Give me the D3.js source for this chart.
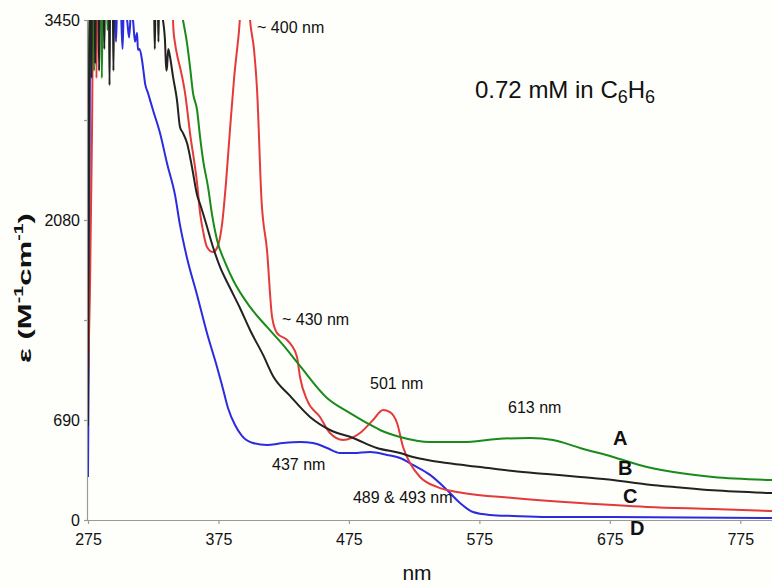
<!DOCTYPE html>
<html>
<head>
<meta charset="utf-8">
<script src="https://cdn.jsdelivr.net/npm/d3@7/dist/d3.min.js"></script>
<style>
  html, body { margin: 0; padding: 0; background: #fefefb; }
  svg { display: block; font-family: "Liberation Sans", Arial, Helvetica, sans-serif; }
</style>
</head>
<body>
<svg id="chart" width="772" height="587"></svg>
<script>
// ---------- data (wavelength nm, epsilon M^-1 cm^-1) ----------
const curveA = [ // green
  [275,1700],[275.6,2800],[276.3,3600],[279,3600],[279.6,3100],[280.3,3600],[285,3600],[285.6,3050],[286.3,3600],
  [289.5,3600],[290,3380],[290.6,3600],[345,3600],[347.8,3450],[350.9,3291],[353.2,3126],[355.5,2946],[358.6,2829],
  [360.9,2643],[363.2,2484],[367.0,2298],[370.1,2105],[373.9,1932],[380.0,1780],[386.2,1656],[399.2,1470],[412.2,1332],
  [424.5,1208],[437.5,1063],[458.2,842],[475.9,738],[488.9,669],[498.8,621],[514.2,573],[537.2,538],[562.5,538],
  [588.5,559],[613.8,566],[631.5,552],[652.2,497],[677.5,435],[703.5,366],[728.8,324],[754.1,297],[799.4,276]
];
const curveB = [ // black
  [275,650],[275.6,2500],[276.2,3600],[277.2,3600],[277.6,3050],[278.1,3600],[280,3600],[280.5,3150],[281,3600],
  [283,3600],[283.5,3100],[284,3600],[287,3600],[287.5,3250],[288,3600],[291,3600],[291.5,3000],[292,3600],
  [294,3600],[294.5,3100],[295,3600],[325.5,3600],[326.2,3250],[326.8,3600],[328.5,3600],[329,3300],[329.5,3600],
  [331.5,3500],[334.0,3312],[335.0,3100],[335.6,3126],[336.5,3250],[337.9,3195],[340.2,3057],[343.2,2898],
  [345.5,2712],[347.8,2670],[350.9,2601],[354.7,2436],[358.6,2243],[360.9,2180],[364.7,2070],[370.8,1884],
  [376.2,1746],[383.9,1601],[391.5,1463],[399.2,1311],[409.2,1139],[416.8,994],[429.9,856],[445.2,711],
  [460.5,621],[478.2,566],[496.5,497],[514.2,462],[524.1,435],[550.2,393],[575.5,366],[600.8,338],[626.9,317],
  [652.2,297],[677.5,276],[703.5,245],[728.8,224],[754.1,205],[799.4,186]
];
const curveC = [ // red
  [275,931],[276.5,1587],[278.1,2691],[279,3600],[281,3600],[281.5,3050],[282,3600],[285.2,3600],[285.7,3300],
  [286.2,3600],[339.4,3600],[340.5,3381],[341.7,3291],[343.5,3200],[345.5,3126],[349.4,2946],[353.2,2670],
  [358.6,2325],[360.9,2120],[363.5,1980],[366.2,1884],[370.8,1849],[373.9,1877],[377.7,2036],[380.8,2330],
  [383.9,2700],[387.0,3050],[390.5,3350],[393.1,3600],[398,3600],[399.2,3450],[402.3,3243],[404.6,2967],
  [408.0,2208],[412.2,1863],[416.1,1401],[419.9,1290],[427.6,1242],[431.4,1200],[435.2,1125],[437.5,987],
  [442.9,828],[452.8,711],[460.5,600],[470.5,552],[483.5,600],[493.5,690],[501.2,759],[506.5,745],[511.9,669],
  [516.5,504],[521.8,393],[529.5,297],[542.5,228],[562.5,186],[600.8,152],[652.2,117],[703.5,90],[754.1,76],[799.4,62]
];
const curveD = [ // blue
  [275,297],[276,1800],[276.8,3600],[295,3600],[296.5,3300],[297.5,3600],[300,3550],[301.5,3250],[302.5,3550],
  [305,3450],[306.5,3330],[308,3500],[309.5,3450],[311,3300],[312.6,3360],[313.3,3243],[314.5,3250],[316.4,3174],
  [317.5,3100],[318.7,3015],[321,2946],[324.8,2829],[330.2,2670],[335.6,2460],[341.7,2243],[345.5,2036],
  [350.9,1808],[358.6,1553],[366.2,1290],[373.9,1056],[377.7,932],[382.3,773],[387.7,655],[393.0,580],[401.5,531],
  [412.2,518],[424.5,531],[437.5,538],[447.5,531],[458.2,497],[468.2,462],[478.2,462],[491.2,469],[504.2,449],
  [514.2,428],[524.1,380],[537.2,311],[550.2,207],[560.2,117],[570.1,55],[583.2,35],[600.8,28],[626.9,21],
  [677.5,21],[799.4,14]
];

const xTickValues = [275, 375, 475, 575, 675, 775];
const yTickValues = [0, 690, 1380, 2070, 2760, 3450];
const yTickLabels = ["0", "690", "", "2080", "", "3450"];

const seriesNames = ["A", "B", "C", "D"];
const seriesColors = ["#1a8a1a", "#222222", "#e33b3b", "#2b2be0"];

const peakLabels = [
  { text: "~ 400 nm", nm: 404.6, eps: 3360 },
  { text: "~ 430 nm", nm: 423.7, eps: 1345 },
  { text: "501 nm", nm: 491.2, eps: 904 },
  { text: "613 nm", nm: 597.0, eps: 738 },
  { text: "437 nm", nm: 416.1, eps: 345 },
  { text: "489 & 493 nm", nm: 478.1, eps: 117 }
];
const letterLabels = [
  { text: "A", nm: 677.5, eps: 517 },
  { text: "B", nm: 681.3, eps: 310 },
  { text: "C", nm: 685.1, eps: 117 },
  { text: "D", nm: 690.5, eps: -103 }
];

// ---------- chart ----------
const svg = d3.select("#chart");
const pLeft = 88, pRight = 772.9, pTop = 20, pBottom = 520;

const x = d3.scaleLinear().domain([275, 800]).range([pLeft, pRight]);
const y = d3.scaleLinear().domain([0, 3450]).range([pBottom, pTop]);

svg.append("defs").append("clipPath").attr("id", "plotclip")
  .append("rect").attr("x", pLeft).attr("y", pTop).attr("width", pRight - pLeft).attr("height", pBottom - pTop + 2);

// axes
const yAxis = svg.append("g").attr("transform", `translate(${pLeft},0)`)
  .call(d3.axisLeft(y).tickValues(yTickValues).tickSize(4).tickPadding(4)
    .tickFormat((d, i) => yTickLabels[i]));
const xAxis = svg.append("g").attr("transform", `translate(0,${pBottom})`)
  .call(d3.axisBottom(x).tickValues(xTickValues).tickSize(4).tickPadding(10).tickFormat(d3.format("d")));

[yAxis, xAxis].forEach(g => {
  g.select(".domain").attr("stroke", "#9a9a9a").attr("stroke-width", 1.2);
  g.selectAll(".tick line").attr("stroke", "#9a9a9a").attr("stroke-width", 1.2);
  g.selectAll(".tick text").attr("fill", "#111").style("font-size", "16px")
    .style("font-family", "'Liberation Sans', Arial, sans-serif");
});
xAxis.select(".domain").attr("d", `M${pLeft},0.5H${pRight}`);
yAxis.select(".domain").attr("d", `M-0.5,${pBottom}V${pTop}`);

// lines
const line = d3.line().x(d => x(d[0])).y(d => y(d[1])).curve(d3.curveMonotoneX);
const series = [curveD, curveC, curveA, curveB];
const order = [3, 2, 0, 1];
const plot = svg.append("g").attr("clip-path", "url(#plotclip)");
series.forEach((s, i) => {
  plot.append("path").datum(s)
    .attr("fill", "none")
    .attr("stroke", seriesColors[order[i]])
    .attr("stroke-width", 2)
    .attr("stroke-linejoin", "round")
    .attr("d", line);
});

// peak annotations
svg.append("g").selectAll("text").data(peakLabels).join("text")
  .attr("x", d => x(d.nm)).attr("y", d => y(d.eps))
  .attr("fill", "#111").style("font-size", "16px")
  .text(d => d.text);

// series letters
svg.append("g").selectAll("text").data(letterLabels).join("text")
  .attr("x", d => x(d.nm)).attr("y", d => y(d.eps))
  .attr("fill", "#111").style("font-size", "20px").style("font-weight", "bold")
  .text(d => d.text);

// title
const title = svg.append("text").attr("x", 475).attr("y", 98).attr("fill", "#111").style("font-size", "24px");
title.append("tspan").text("0.72 mM in C");
title.append("tspan").attr("dy", 5).style("font-size", "18px").text("6");
title.append("tspan").attr("dy", -5).text("H");
title.append("tspan").attr("dy", 5).style("font-size", "18px").text("6");

// axis titles
svg.append("text").attr("x", 417).attr("y", 580).attr("text-anchor", "middle")
  .attr("fill", "#111").style("font-size", "21px").text("nm");

const ylG = svg.append("g").attr("transform", "translate(31,288) rotate(-90)");
const yl = ylG.append("text")
  .attr("text-anchor", "middle").attr("fill", "#111").style("font-size", "19px").style("font-weight", "bold");
yl.append("tspan").text("ε");
yl.append("tspan").text(" (M");
yl.append("tspan").attr("dy", -8).style("font-size", "12px").text("-1");
yl.append("tspan").attr("dy", 8).text("cm");
yl.append("tspan").attr("dy", -8).style("font-size", "12px").text("-1");
yl.append("tspan").attr("dy", 8).text(")");
const ylW = yl.node().getBBox().width;
if (ylW > 0) yl.attr("transform", `scale(${150 / ylW},1)`);
</script>
</body>
</html>
